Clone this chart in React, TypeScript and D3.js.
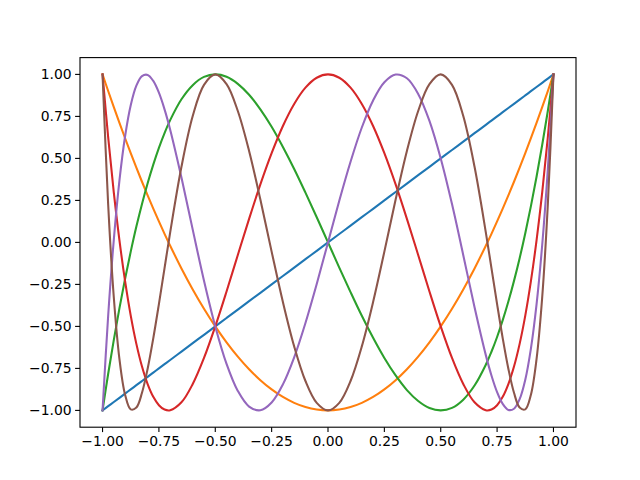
import * as d3 from "d3";

// sample positions (denser near the ends where T5/T6 swing fast)
const xs = [
  -1, -0.975, -0.95, -0.925, -0.9, -0.875, -0.85, -0.825, -0.8, -0.775, -0.75, -0.725, -0.7,
  -0.65, -0.6, -0.55, -0.5, -0.45, -0.4, -0.35, -0.3, -0.25, -0.2, -0.15, -0.1, -0.05,
  0,
  0.05, 0.1, 0.15, 0.2, 0.25, 0.3, 0.35, 0.4, 0.45, 0.5, 0.55, 0.6, 0.65,
  0.7, 0.725, 0.75, 0.775, 0.8, 0.825, 0.85, 0.875, 0.9, 0.925, 0.95, 0.975, 1,
];

const t1 = [
  -1, -0.975, -0.95, -0.925, -0.9, -0.875, -0.85, -0.825, -0.8, -0.775, -0.75, -0.725, -0.7,
  -0.65, -0.6, -0.55, -0.5, -0.45, -0.4, -0.35, -0.3, -0.25, -0.2, -0.15, -0.1, -0.05,
  0,
  0.05, 0.1, 0.15, 0.2, 0.25, 0.3, 0.35, 0.4, 0.45, 0.5, 0.55, 0.6, 0.65,
  0.7, 0.725, 0.75, 0.775, 0.8, 0.825, 0.85, 0.875, 0.9, 0.925, 0.95, 0.975, 1,
];

const t2 = [
  1, 0.901, 0.805, 0.711, 0.62, 0.531, 0.445, 0.361, 0.28, 0.201, 0.125, 0.051, -0.02,
  -0.155, -0.28, -0.395, -0.5, -0.595, -0.68, -0.755, -0.82, -0.875, -0.92, -0.955, -0.98, -0.995,
  -1,
  -0.995, -0.98, -0.955, -0.92, -0.875, -0.82, -0.755, -0.68, -0.595, -0.5, -0.395, -0.28, -0.155,
  -0.02, 0.051, 0.125, 0.201, 0.28, 0.361, 0.445, 0.531, 0.62, 0.711, 0.805, 0.901, 1,
];

const t3 = [
  -1, -0.782, -0.58, -0.391, -0.216, -0.055, 0.094, 0.229, 0.352, 0.463, 0.563, 0.651, 0.728,
  0.852, 0.936, 0.985, 1, 0.986, 0.944, 0.879, 0.792, 0.688, 0.568, 0.437, 0.296, 0.15,
  0,
  -0.15, -0.296, -0.437, -0.568, -0.688, -0.792, -0.879, -0.944, -0.986, -1, -0.985, -0.936, -0.852,
  -0.728, -0.651, -0.563, -0.463, -0.352, -0.229, -0.094, 0.055, 0.216, 0.391, 0.58, 0.782, 1,
];

const t4 = [
  1, 0.625, 0.296, 0.012, -0.231, -0.436, -0.604, -0.739, -0.843, -0.919, -0.969, -0.995, -0.999,
  -0.952, -0.843, -0.688, -0.5, -0.292, -0.075, 0.14, 0.345, 0.531, 0.693, 0.824, 0.921, 0.98,
  1,
  0.98, 0.921, 0.824, 0.693, 0.531, 0.345, 0.14, -0.075, -0.292, -0.5, -0.688, -0.843, -0.952,
  -0.999, -0.995, -0.969, -0.919, -0.843, -0.739, -0.604, -0.436, -0.231, 0.012, 0.296, 0.625, 1,
];

const t5 = [
  -1, -0.435, 0.017, 0.369, 0.632, 0.817, 0.933, 0.99, 0.997, 0.961, 0.891, 0.792, 0.671,
  0.386, 0.076, -0.228, -0.5, -0.723, -0.884, -0.977, -0.999, -0.953, -0.845, -0.684, -0.48, -0.248,
  0,
  0.248, 0.48, 0.684, 0.845, 0.953, 0.999, 0.977, 0.884, 0.723, 0.5, 0.228, -0.076, -0.386,
  -0.671, -0.792, -0.891, -0.961, -0.997, -0.99, -0.933, -0.817, -0.632, -0.369, -0.017, 0.435, 1,
];

const t6 = [
  1, 0.224, -0.328, -0.695, -0.907, -0.994, -0.983, -0.895, -0.752, -0.571, -0.367, -0.153, 0.06,
  0.45, 0.752, 0.938, 1, 0.942, 0.782, 0.544, 0.255, -0.055, -0.355, -0.619, -0.825, -0.955,
  -1,
  -0.955, -0.825, -0.619, -0.355, -0.055, 0.255, 0.544, 0.782, 0.942, 1, 0.938, 0.752, 0.45,
  0.06, -0.153, -0.367, -0.571, -0.752, -0.895, -0.983, -0.994, -0.907, -0.695, -0.328, 0.224, 1,
];

const series = [t1, t2, t3, t4, t5, t6];
const COLORS = ["#1f77b4", "#ff7f0e", "#2ca02c", "#d62728", "#9467bd", "#8c564b"];

const xTicks = [-1, -0.75, -0.5, -0.25, 0, 0.25, 0.5, 0.75, 1];
const yTicks = [-1, -0.75, -0.5, -0.25, 0, 0.25, 0.5, 0.75, 1];

const WIDTH = 640;
const HEIGHT = 480;
const MARGIN = { top: 57.6, right: 64, bottom: 52.8, left: 80 };
const FONT = "DejaVu Sans";

export default function App() {
  const boundsWidth = WIDTH - MARGIN.left - MARGIN.right;
  const boundsHeight = HEIGHT - MARGIN.top - MARGIN.bottom;

  const xScale = d3.scaleLinear().domain([-1.1, 1.1]).range([0, boundsWidth]);
  const yScale = d3.scaleLinear().domain([-1.1, 1.1]).range([boundsHeight, 0]);
  const fmt = d3.format(".2f");

  const line = d3
    .line<number>()
    .x((_, i) => xScale(xs[i]))
    .y((d) => yScale(d))
    .curve(d3.curveCatmullRom.alpha(0.5));

  return (
    <svg
      width={WIDTH}
      height={HEIGHT}
      style={{ position: "absolute", top: 0, left: 0, background: "white" }}
      fontFamily={FONT}
    >
      <g transform={`translate(${MARGIN.left},${MARGIN.top})`}>
        <defs>
          <clipPath id="plot-area">
            <rect width={boundsWidth} height={boundsHeight} />
          </clipPath>
        </defs>
        <g clipPath="url(#plot-area)">
          {series.map((s, i) => (
            <path
              key={i}
              d={line(s) ?? ""}
              fill="none"
              stroke={COLORS[i]}
              strokeWidth={2.08}
              strokeLinejoin="round"
              strokeLinecap="square"
            />
          ))}
        </g>

        {/* spines */}
        <rect
          width={boundsWidth}
          height={boundsHeight}
          fill="none"
          stroke="black"
          strokeWidth={1.1}
        />

        {/* x axis */}
        {xTicks.map((t) => (
          <g key={"x" + t} transform={`translate(${xScale(t)},${boundsHeight})`}>
            <line y2={4.9} stroke="black" strokeWidth={1.1} />
            <text y={19} textAnchor="middle" fontSize={13.9} fill="black">
              {fmt(t)}
            </text>
          </g>
        ))}

        {/* y axis */}
        {yTicks.map((t) => (
          <g key={"y" + t} transform={`translate(0,${yScale(t)})`}>
            <line x2={-4.9} stroke="black" strokeWidth={1.1} />
            <text x={-8.4} dy="0.35em" textAnchor="end" fontSize={13.9} fill="black">
              {fmt(t)}
            </text>
          </g>
        ))}
      </g>
    </svg>
  );
}
